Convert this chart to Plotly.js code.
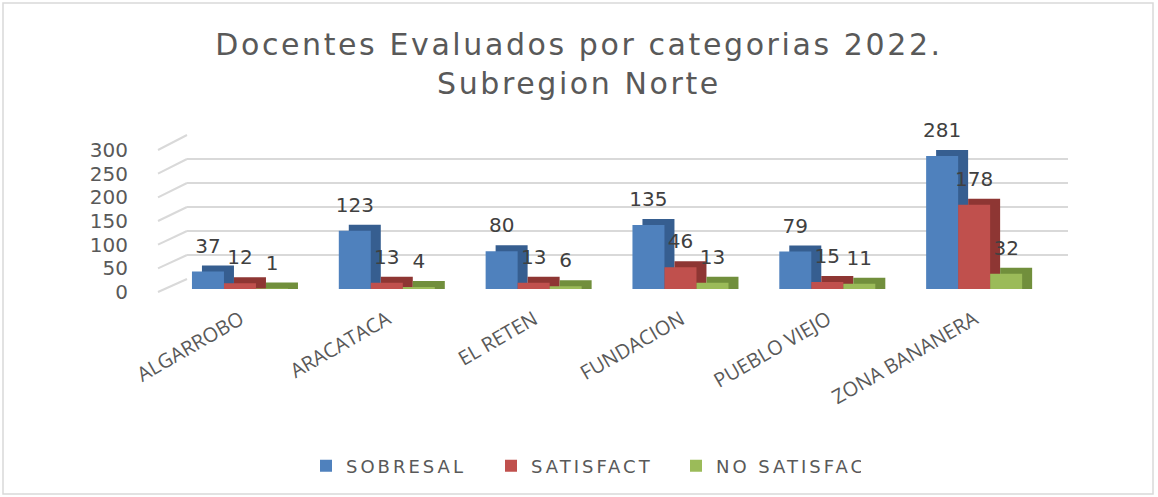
<!DOCTYPE html>
<html>
<head>
<meta charset="utf-8">
<script src="https://cdn.plot.ly/plotly-3.0.1.min.js"></script>
<style>
html,body{margin:0;padding:0;background:#fff;}
#chart{width:1158px;height:497px;}
#chart .gtitle{letter-spacing:2.6px;}
#chart .legendtext{letter-spacing:3px;}
</style>
</head>
<body>
<div id="chart"></div>
<script>
// ---- data ----
const categories = ['ALGARROBO', 'ARACATACA', 'EL RETEN', 'FUNDACION', 'PUEBLO VIEJO', 'ZONA BANANERA'];
const sobresal   = [37, 123, 80, 135, 79, 281];
const satisfact  = [12, 13, 13, 46, 15, 178];
const noSatisfac = [1, 4, 6, 13, 11, 32];
const seriesNames = ['SOBRESAL', 'SATISFACT', 'NO SATISFAC'];
const yTicks = [0, 50, 100, 150, 200, 250, 300];

// ---- styling / geometry ----
const W = 1158, H = 497;
const px = v => v / W, py = v => (H - v) / H;
const faceColors = ['#4F81BD', '#C0504D', '#9BBB59'];
const sideColors = ['#365E90', '#8E3633', '#718F3C'];
const barW = 0.218;
const offsets = [-0.33, -0.112, 0.106];
const depthX = 0.068;      // category units (~10px)
const depthY = 12.7;       // value units (~6px)
const labelLift = 10.5;    // extra value units above depth top
const pxPerUnit = 142 / 300;

const series = [sobresal, satisfact, noSatisfac];
const traces = [];
// dummy trace on back-wall subplot (x/y)
traces.push({type: 'scatter', x: [], y: [], xaxis: 'x', yaxis: 'y', showlegend: false, hoverinfo: 'skip'});

series.forEach((vals, i) => {
  traces.push({
    type: 'bar', x: categories, y: vals.map(v => v + depthY),
    xaxis: 'x2', yaxis: 'y2',
    width: barW, offset: offsets[i] + depthX,
    marker: {color: sideColors[i], line: {width: 0}},
    showlegend: false, hoverinfo: 'skip'
  });
  traces.push({
    type: 'bar', x: categories, y: vals, name: seriesNames[i],
    xaxis: 'x2', yaxis: 'y2',
    width: barW, offset: offsets[i],
    marker: {color: faceColors[i], line: {width: 0}},
    hoverinfo: 'x+y+name'
  });
});
series.forEach((vals, i) => {
  traces.push({
    type: 'bar', x: categories, y: vals.map(v => v + depthY + labelLift),
    xaxis: 'x2', yaxis: 'y2',
    width: barW, offset: offsets[i],
    marker: {color: 'rgba(0,0,0,0)'},
    text: vals.map(String), textposition: 'outside', constraintext: 'none',
    cliponaxis: false,
    textfont: {family: 'DejaVu Sans', size: 20, color: '#404040'},
    showlegend: false, hoverinfo: 'skip'
  });
});

// diagonal (floor-to-wall) gridline connectors
const shapes = yTicks.map(v => ({
  type: 'line', layer: 'below', xref: 'paper', yref: 'paper',
  x0: px(158), x1: px(187),
  y0: py(292 - v * 142 / 300), y1: py(279 - v * 144 / 300),
  line: {color: '#D9D9D9', width: 2}
}));
shapes.push({type: 'rect', xref: 'paper', yref: 'paper', layer: 'below',
  x0: px(3), x1: px(1153), y0: py(494), y1: py(3),
  line: {color: '#D9D9D9', width: 1.5}});

const layout = {
  width: W, height: H,
  margin: {l: 0, r: 0, t: 0, b: 0},
  paper_bgcolor: '#FFFFFF', plot_bgcolor: 'rgba(0,0,0,0)',
  barmode: 'overlay',
  showlegend: true,
  title: {
    text: 'Docentes Evaluados por categorias 2022.<br>Subregion Norte',
    font: {family: 'DejaVu Sans', size: 30, color: '#595959'},
    x: 0.5, xanchor: 'center', y: py(55), yanchor: 'middle'
  },
  // back wall grid
  xaxis: {domain: [px(187), px(1068)], range: [0, 1], visible: false, fixedrange: true},
  yaxis: {domain: [py(279), py(135)], range: [0, 300], dtick: 50, showgrid: true,
          gridcolor: '#D9D9D9', gridwidth: 2, zeroline: false, showticklabels: false,
          ticks: '', showline: false, anchor: 'x', fixedrange: true},
  // bar axes
  xaxis2: {domain: [px(167), px(1048)], anchor: 'y2', type: 'category', range: [-0.5, 5.5],
           showgrid: false, zeroline: false, showline: false,
           ticks: 'outside', ticklen: 10, tickcolor: 'rgba(0,0,0,0)', tickangle: -30,
           tickfont: {family: 'Open Sans', size: 20, color: '#595959'}, fixedrange: true},
  yaxis2: {domain: [py(289), py(289 - 340 * pxPerUnit)], anchor: 'x2', range: [0, 340], tickvals: yTicks,
           showgrid: false, zeroline: false, showline: false,
           ticks: 'outside', ticklen: 34, tickcolor: 'rgba(0,0,0,0)', ticklabelshift: 3,
           tickfont: {family: 'DejaVu Sans', size: 20, color: '#595959'}, fixedrange: true},
  legend: {orientation: 'h', x: px(306), xanchor: 'left', y: py(466), yanchor: 'middle',
           entrywidth: 140, entrywidthmode: 'pixels',
           font: {family: 'DejaVu Sans', size: 18, color: '#595959'}, traceorder: 'normal'},
  shapes: shapes
};

Plotly.newPlot('chart', traces, layout, {displayModeBar: false, staticPlot: true});
</script>
</body>
</html>
